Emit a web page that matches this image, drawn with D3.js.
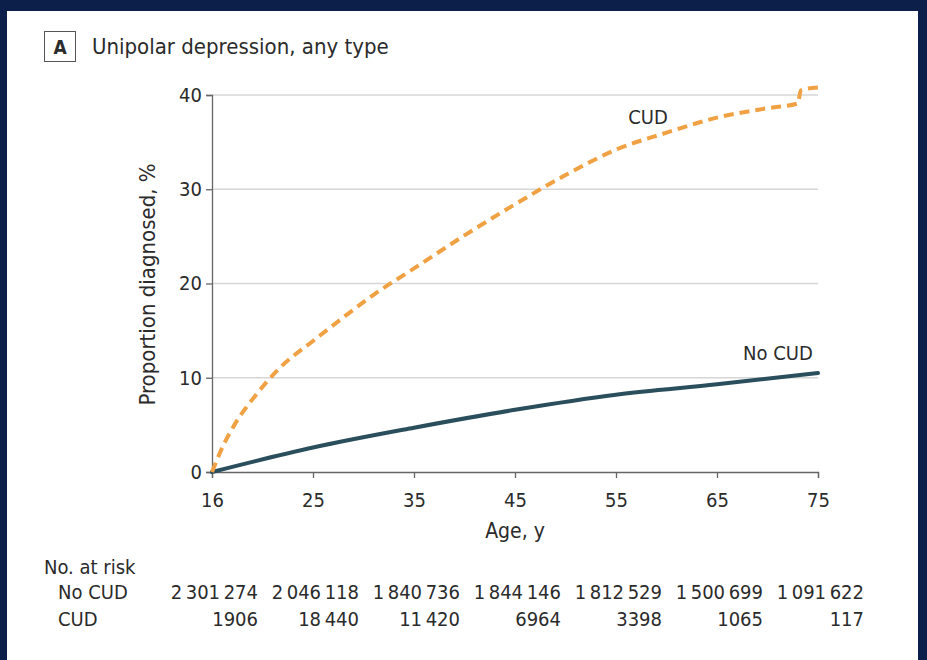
<!DOCTYPE html>
<html><head><meta charset="utf-8">
<script src="https://cdn.jsdelivr.net/npm/d3@7"></script>
<style>
html,body{margin:0;padding:0;background:#0b1f4a;}
svg{display:block;}
text{font-family:"DejaVu Sans Condensed",sans-serif;fill:#2b2b2b;}
</style></head>
<body>
<script>
const xTicks = [16, 25, 35, 45, 55, 65, 75];
const yTicks = [0, 10, 20, 30, 40];
const cudAge = [16, 17, 18, 20, 22, 25, 28, 31, 35, 40, 45, 50, 55, 60, 65, 70, 73, 73.3, 75];
const cudVal = [0, 2.8, 5.0, 8.3, 11.0, 13.9, 16.4, 18.8, 21.6, 25.1, 28.4, 31.5, 34.2, 36.0, 37.6, 38.6, 39.1, 40.5, 40.8];
const noCudAge = [16, 25, 35, 45, 55, 65, 75];
const noCudVal = [0, 2.6, 4.7, 6.6, 8.2, 9.3, 10.5];
const riskRows = ["No CUD", "CUD"];
const riskNoCud = ["2\u2009301\u2009274", "2\u2009046\u2009118", "1\u2009840\u2009736", "1\u2009844\u2009146", "1\u2009812\u2009529", "1\u2009500\u2009699", "1\u2009091\u2009622"];
const riskCud = ["1906", "18\u2009440", "11\u2009420", "6964", "3398", "1065", "117"];

const W = 927, H = 660;
const svg = d3.select("body").append("svg").attr("width", W).attr("height", H);
svg.append("rect").attr("x", 7).attr("y", 11).attr("width", 911).attr("height", H - 11).attr("fill", "#ffffff");

const x0 = 212, x1 = 818, y0 = 472, y1 = 95;
const x = d3.scaleLinear().domain(xTicks).range(xTicks.map((d, i) => x0 + i * (x1 - x0) / (xTicks.length - 1)));
const y = d3.scaleLinear().domain([0, 40]).range([y0, y1]);
const FS = 20;

// title
svg.append("rect").attr("x", 44.5).attr("y", 31.5).attr("width", 31).attr("height", 30).attr("fill", "none").attr("stroke", "#555").attr("stroke-width", 1);
svg.append("text").attr("x", 60).attr("y", 54).attr("text-anchor", "middle").attr("font-size", 19).attr("font-weight", "bold").text("A");
svg.append("text").attr("x", 92).attr("y", 54).attr("font-size", 22).text("Unipolar depression, any type");

// gridlines
svg.append("g").selectAll("line").data(yTicks.filter(d => d > 0)).join("line")
  .attr("x1", x0).attr("x2", x1).attr("y1", d => y(d)).attr("y2", d => y(d))
  .attr("stroke", "#d6d6d6").attr("stroke-width", 1.5);

// axes
const yAxis = svg.append("g").attr("transform", `translate(${x0},0)`)
  .call(d3.axisLeft(y).tickValues(yTicks).tickSize(6).tickPadding(4));
const xAxis = svg.append("g").attr("transform", `translate(0,${y0})`)
  .call(d3.axisBottom(x).tickValues(xTicks).tickSize(6).tickPadding(14));
[yAxis, xAxis].forEach(g => {
  g.select(".domain").attr("stroke", "#666").attr("stroke-width", 1.3);
  g.selectAll(".tick line").attr("stroke", "#666").attr("stroke-width", 1.3);
  g.selectAll(".tick text").attr("font-size", FS).attr("fill", "#2b2b2b")
    .style("font-family", '"DejaVu Sans Condensed",sans-serif');
});
xAxis.selectAll(".tick text").attr("dy", "0.75em");

svg.append("text").attr("transform", `translate(155,${(y0 + y1) / 2 + 1}) rotate(-90)`)
  .attr("text-anchor", "middle").attr("font-size", 22).text("Proportion diagnosed, %");
svg.append("text").attr("x", (x0 + x1) / 2).attr("y", 538).attr("text-anchor", "middle").attr("font-size", 21).text("Age, y");

// lines
const line = d3.line().x(d => x(d[0])).y(d => y(d[1])).curve(d3.curveMonotoneX);
svg.append("path").datum(noCudAge.map((a, i) => [a, noCudVal[i]]))
  .attr("d", line).attr("fill", "none").attr("stroke", "#2a4e5c").attr("stroke-width", 4).attr("stroke-linecap", "round");
svg.append("path").datum(cudAge.map((a, i) => [a, cudVal[i]]))
  .attr("d", line).attr("fill", "none").attr("stroke", "#f0a143").attr("stroke-width", 4).attr("stroke-dasharray", "10,6");

svg.append("text").attr("x", 648).attr("y", 124).attr("text-anchor", "middle").attr("font-size", FS).text("CUD");
svg.append("text").attr("x", 778).attr("y", 360).attr("text-anchor", "middle").attr("font-size", FS).text("No CUD");

// risk table
svg.append("text").attr("x", 44).attr("y", 574).attr("font-size", FS).text("No. at risk");
const rows = [riskNoCud, riskCud];
rows.forEach((vals, r) => {
  const yy = 599 + r * 27;
  svg.append("text").attr("x", 58).attr("y", yy).attr("font-size", FS).text(riskRows[r]);
  svg.append("g").selectAll("text").data(vals).join("text")
    .attr("x", (d, i) => x(xTicks[i]) + 46).attr("y", yy).attr("text-anchor", "end").attr("font-size", FS).text(d => d);
});
</script>
</body></html>
